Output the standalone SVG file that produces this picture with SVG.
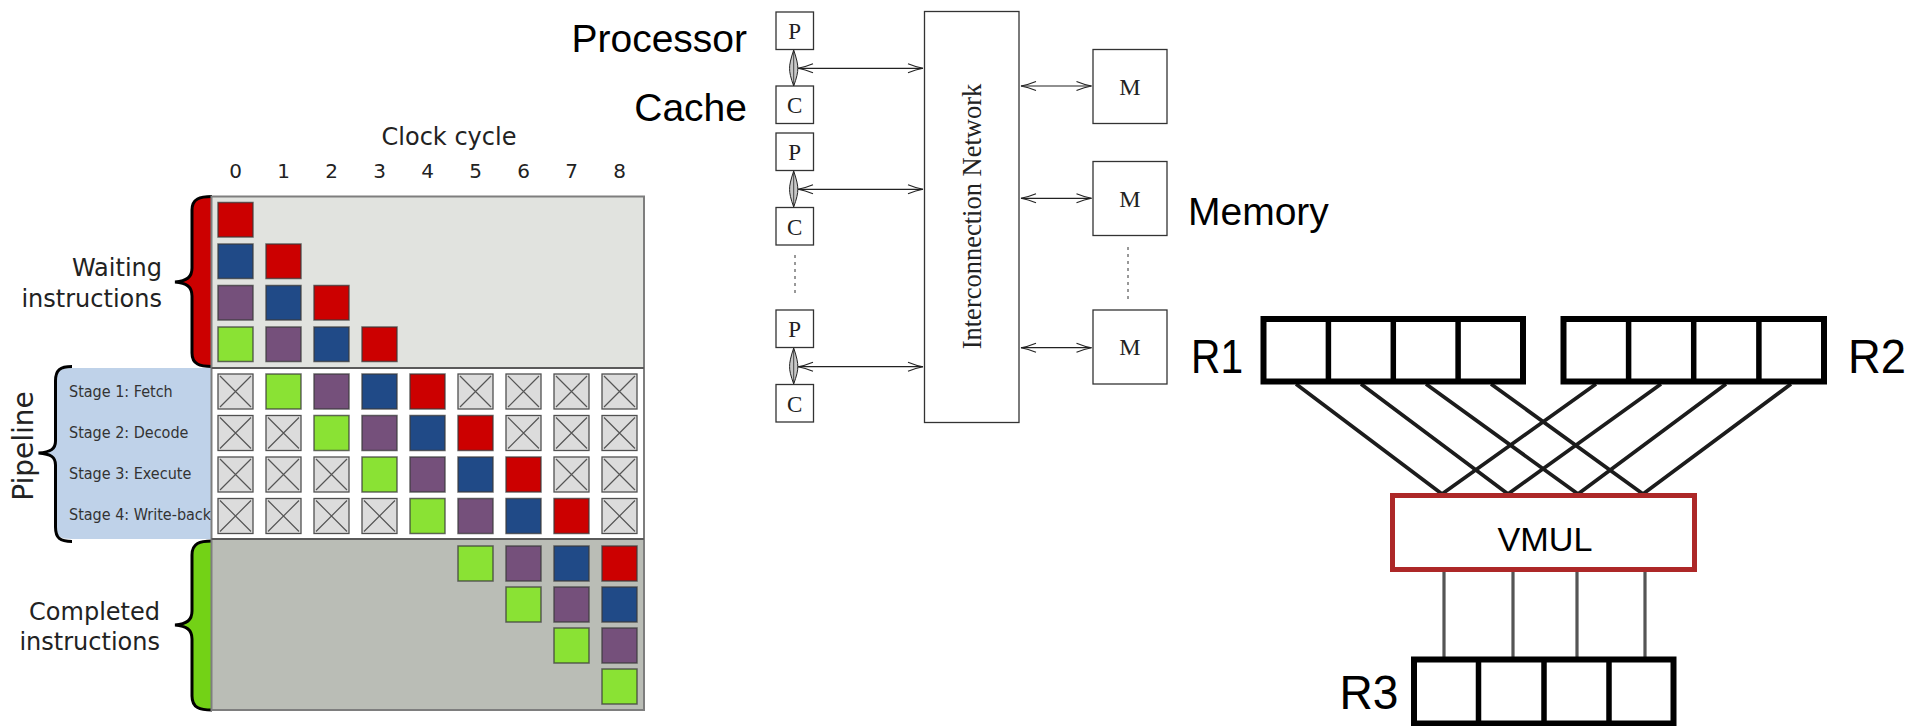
<svg xmlns="http://www.w3.org/2000/svg" xmlns:xlink="http://www.w3.org/1999/xlink" width="1923" height="726" viewBox="0 0 1923 726">
<style>
.lbl{font-family:"DejaVu Sans",sans-serif;fill:#222}
.stg{font-family:"DejaVu Sans Condensed","DejaVu Sans",sans-serif;font-stretch:condensed;font-size:16px;fill:#333}
.r{fill:#cc0000}.b{fill:#204a87}.p{fill:#75507b}.g{fill:#8ae234}
.cell rect{stroke:#3a3a3a;stroke-opacity:.75;stroke-width:1.5}
.big{font-family:"Liberation Sans",Arial,sans-serif;fill:#000}
.ser{font-family:"Liberation Serif","Times New Roman",serif;fill:#222}
.box{fill:#fff;stroke:#333;stroke-width:1.3}
.arr{stroke:#222;stroke-width:1.2;fill:none;marker-start:url(#oh);marker-end:url(#oh)}
.reg{fill:#fff;stroke:#000;stroke-width:6}
.div{stroke:#000;stroke-width:5.5}
.wire{stroke:#1c1c1c;stroke-width:3.7;fill:none}
.vw{stroke:#555;stroke-width:3.2;fill:none}
</style>
<defs>
<g id="xcell"><rect x="0" y="0" width="35" height="35" fill="#dcdcdc" stroke="#505050" stroke-width="1.3"/><path d="M2 2 L33 33 M33 2 L2 33" stroke="#555" stroke-width="1.2" fill="none"/></g>
<marker id="oh" viewBox="-16 -6 17 12" refX="0" refY="0" markerWidth="17" markerHeight="12" markerUnits="userSpaceOnUse" orient="auto-start-reverse"><path d="M-15 -4.5 Q-7 -1.2 0 0 Q-7 1.2 -15 4.5" fill="none" stroke="#222" stroke-width="1.1"/></marker>
</defs>
<rect width="1923" height="726" fill="#fff"/>

<!-- ===== Left: pipeline diagram ===== -->
<g id="pipeline-chart">
<text class="lbl" x="449" y="145" font-size="24" text-anchor="middle">Clock cycle</text>
<g class="lbl" font-size="20" text-anchor="middle">
<text x="235.5" y="178">0</text><text x="283.5" y="178">1</text><text x="331.5" y="178">2</text><text x="379.5" y="178">3</text><text x="427.5" y="178">4</text><text x="475.5" y="178">5</text><text x="523.5" y="178">6</text><text x="571.5" y="178">7</text><text x="619.5" y="178">8</text>
</g>
<g id="waiting-label" class="lbl" font-size="24" text-anchor="end"><text x="162" y="276">Waiting</text><text x="162" y="307">instructions</text></g>
<g id="completed-label" class="lbl" font-size="24" text-anchor="end"><text x="160" y="620">Completed</text><text x="160" y="650">instructions</text></g>
<text class="lbl" font-size="28" transform="translate(33,446) rotate(-90)" text-anchor="middle">Pipeline</text>

<!-- pipeline blue band + brace -->
<path d="M212 368 L72 368 C60 368 55.5 371 55.5 381 L55.5 441 C55.5 449 51 452 38.5 453 C51 454 55.5 457 55.5 465 L55.5 527 C55.5 536 60 539 72 539 L212 539 Z" fill="#bfd2e9"/>
<path d="M72 366.5 C60 366.5 55.5 370 55.5 381 L55.5 441 C55.5 449 51 452 38.5 453 C51 454 55.5 457 55.5 465 L55.5 527 C55.5 538 60 541.5 72 541.5" fill="none" stroke="#000" stroke-width="3"/>
<g class="stg"><text x="69" y="397">Stage 1: Fetch</text><text x="69" y="438">Stage 2: Decode</text><text x="69" y="479">Stage 3: Execute</text><text x="69" y="520">Stage 4: Write-back</text></g>

<!-- waiting brace -->
<path d="M212 196.5 C200 196.5 192 198.5 192 210 L192 268 C192 277 187 281 175 282 C187 283 192 287 192 296 L192 353 C192 364.5 200 366.5 212 366.5 Z" fill="#cc0000"/>
<path d="M212 196.5 C200 196.5 192 198.5 192 210 L192 268 C192 277 187 281 175 282 C187 283 192 287 192 296 L192 353 C192 364.5 200 366.5 212 366.5" fill="none" stroke="#000" stroke-width="3"/>
<!-- completed brace -->
<path d="M212 541 C200 541 192 543 192 555 L192 611 C192 620 187 624 175 625 C187 626 192 630 192 639 L192 696 C192 708 200 710 212 710 Z" fill="#73d216"/>
<path d="M212 541 C200 541 192 543 192 555 L192 611 C192 620 187 624 175 625 C187 626 192 630 192 639 L192 696 C192 708 200 710 212 710" fill="none" stroke="#000" stroke-width="3"/>

<!-- grid backgrounds -->
<rect x="211.5" y="196.5" width="432.5" height="171.5" fill="#e1e3df"/>
<rect x="211.5" y="368" width="432.5" height="171" fill="#fff"/>
<rect x="211.5" y="539" width="432.5" height="171" fill="#babdb6"/>
<rect x="211.5" y="196.5" width="432.5" height="513.5" fill="none" stroke="#7e7e7e" stroke-width="2"/>
<path d="M211.5 368 H644 M211.5 539 H644" stroke="#5a5a5a" stroke-width="2"/>

<g id="waiting-cells" class="cell">
<rect class="r" x="218" y="202.5" width="35" height="34.5"/>
<rect class="b" x="218" y="244" width="35" height="34.5"/><rect class="r" x="266" y="244" width="35" height="34.5"/>
<rect class="p" x="218" y="285.5" width="35" height="34.5"/><rect class="b" x="266" y="285.5" width="35" height="34.5"/><rect class="r" x="314" y="285.5" width="35" height="34.5"/>
<rect class="g" x="218" y="327" width="35" height="34.5"/><rect class="p" x="266" y="327" width="35" height="34.5"/><rect class="b" x="314" y="327" width="35" height="34.5"/><rect class="r" x="362" y="327" width="35" height="34.5"/>
</g>

<g id="pipeline-cells" class="cell">
<use xlink:href="#xcell" x="218" y="374"/><rect class="g" x="266" y="374" width="35" height="35"/><rect class="p" x="314" y="374" width="35" height="35"/><rect class="b" x="362" y="374" width="35" height="35"/><rect class="r" x="410" y="374" width="35" height="35"/><use xlink:href="#xcell" x="458" y="374"/><use xlink:href="#xcell" x="506" y="374"/><use xlink:href="#xcell" x="554" y="374"/><use xlink:href="#xcell" x="602" y="374"/>
<use xlink:href="#xcell" x="218" y="415.5"/><use xlink:href="#xcell" x="266" y="415.5"/><rect class="g" x="314" y="415.5" width="35" height="35"/><rect class="p" x="362" y="415.5" width="35" height="35"/><rect class="b" x="410" y="415.5" width="35" height="35"/><rect class="r" x="458" y="415.5" width="35" height="35"/><use xlink:href="#xcell" x="506" y="415.5"/><use xlink:href="#xcell" x="554" y="415.5"/><use xlink:href="#xcell" x="602" y="415.5"/>
<use xlink:href="#xcell" x="218" y="457"/><use xlink:href="#xcell" x="266" y="457"/><use xlink:href="#xcell" x="314" y="457"/><rect class="g" x="362" y="457" width="35" height="35"/><rect class="p" x="410" y="457" width="35" height="35"/><rect class="b" x="458" y="457" width="35" height="35"/><rect class="r" x="506" y="457" width="35" height="35"/><use xlink:href="#xcell" x="554" y="457"/><use xlink:href="#xcell" x="602" y="457"/>
<use xlink:href="#xcell" x="218" y="498.5"/><use xlink:href="#xcell" x="266" y="498.5"/><use xlink:href="#xcell" x="314" y="498.5"/><use xlink:href="#xcell" x="362" y="498.5"/><rect class="g" x="410" y="498.5" width="35" height="35"/><rect class="p" x="458" y="498.5" width="35" height="35"/><rect class="b" x="506" y="498.5" width="35" height="35"/><rect class="r" x="554" y="498.5" width="35" height="35"/><use xlink:href="#xcell" x="602" y="498.5"/>
</g>

<g id="completed-cells" class="cell">
<rect class="g" x="458" y="546" width="35" height="35"/><rect class="p" x="506" y="546" width="35" height="35"/><rect class="b" x="554" y="546" width="35" height="35"/><rect class="r" x="602" y="546" width="35" height="35"/>
<rect class="g" x="506" y="587" width="35" height="35"/><rect class="p" x="554" y="587" width="35" height="35"/><rect class="b" x="602" y="587" width="35" height="35"/>
<rect class="g" x="554" y="628" width="35" height="35"/><rect class="p" x="602" y="628" width="35" height="35"/>
<rect class="g" x="602" y="669" width="35" height="35"/>
</g>
</g>

<!-- ===== Middle: multiprocessor ===== -->
<g id="mp-labels" class="big" font-size="39" text-anchor="end">
<text x="747" y="52">Processor</text>
<text x="747" y="121">Cache</text>
</g>
<text class="big" font-size="39" x="1188" y="225">Memory</text>

<g id="P1"><rect class="box" x="776" y="12" width="37.5" height="37.5"/><text class="ser" x="794.7" y="39" font-size="23" text-anchor="middle">P</text></g>
<g id="C1"><rect class="box" x="776" y="86" width="37.5" height="37.5"/><text class="ser" x="794.7" y="113" font-size="23" text-anchor="middle">C</text></g>
<g id="P2"><rect class="box" x="776" y="133" width="37.5" height="37.5"/><text class="ser" x="794.7" y="160" font-size="23" text-anchor="middle">P</text></g>
<g id="C2"><rect class="box" x="776" y="207.5" width="37.5" height="37.5"/><text class="ser" x="794.7" y="234.5" font-size="23" text-anchor="middle">C</text></g>
<g id="P3"><rect class="box" x="776" y="310" width="37.5" height="37.5"/><text class="ser" x="794.7" y="337" font-size="23" text-anchor="middle">P</text></g>
<g id="C3"><rect class="box" x="776" y="384.5" width="37.5" height="37.5"/><text class="ser" x="794.7" y="411.5" font-size="23" text-anchor="middle">C</text></g>

<g id="network"><rect class="box" x="924.5" y="11.5" width="94.5" height="411"/><text class="ser" font-size="26.5" transform="translate(980.5,216.5) rotate(-90)" text-anchor="middle">Interconnection Network</text></g>

<g id="M1"><rect class="box" x="1093" y="49.5" width="74" height="74"/><text class="ser" x="1130" y="94.5" font-size="24" text-anchor="middle">M</text></g>
<g id="M2"><rect class="box" x="1093" y="161.5" width="74" height="74"/><text class="ser" x="1130" y="206.5" font-size="24" text-anchor="middle">M</text></g>
<g id="M3"><rect class="box" x="1093" y="310" width="74" height="74"/><text class="ser" x="1130" y="355" font-size="24" text-anchor="middle">M</text></g>

<g id="mp-connectors">
<g fill="#c8c8c8" stroke="#222" stroke-width="1">
<path d="M793.7 50 Q789.3 63 789.6 68.3 Q789.3 74 793.7 86 Q798.1 74 797.8 68.3 Q798.1 63 793.7 50 Z"/>
<path d="M793.7 171 Q789.3 184 789.6 189.3 Q789.3 195 793.7 207 Q798.1 195 797.8 189.3 Q798.1 184 793.7 171 Z"/>
<path d="M793.7 348 Q789.3 361 789.6 366.7 Q789.3 372 793.7 384 Q798.1 372 797.8 366.7 Q798.1 361 793.7 348 Z"/>
</g>
<path d="M793.7 51 V85 M793.7 172 V206 M793.7 349 V383" stroke="#222" stroke-width="0.8"/>
<path class="arr" d="M798 68.3 H923"/>
<path class="arr" d="M798 189.3 H923"/>
<path class="arr" d="M798 366.7 H923"/>
<path class="arr" d="M1021 86 H1091.5"/>
<path class="arr" d="M1021 198.3 H1091.5"/>
<path class="arr" d="M1021 347.7 H1091.5"/>
<path d="M795 255 V296 M1128 247 V302" stroke="#333" stroke-width="1" stroke-dasharray="3 4"/>
</g>

<!-- ===== Right: VMUL ===== -->
<g id="vmul-connectors">
<path class="wire" d="M1296 384 L1442 494 M1361 384 L1508 494 M1426 384 L1578 494 M1491 384 L1643 494"/>
<path class="wire" d="M1596 384 L1442 494 M1661 384 L1508 494 M1726 384 L1578 494 M1791 384 L1643 494"/>
<path class="vw" d="M1444 571 V658 M1513 571 V658 M1577 571 V658 M1645 571 V658"/>
</g>
<g id="R1"><rect class="reg" x="1263.5" y="319" width="259.5" height="62.5"/><path class="div" d="M1328.4 319 V381.5 M1393.3 319 V381.5 M1458.1 319 V381.5"/><text class="big" x="1243" y="373.3" font-size="48" textLength="52" lengthAdjust="spacingAndGlyphs" text-anchor="end">R1</text></g>
<g id="R2"><rect class="reg" x="1563.5" y="319" width="260.5" height="62.5"/><path class="div" d="M1628.6 319 V381.5 M1693.7 319 V381.5 M1758.9 319 V381.5"/><text class="big" x="1848" y="373.3" font-size="48" textLength="58" lengthAdjust="spacingAndGlyphs">R2</text></g>
<g id="VMUL"><rect x="1392.5" y="495.5" width="302" height="74" fill="#fff" stroke="#ad2828" stroke-width="5"/><text class="big" x="1545" y="550.5" font-size="33" fill="#111" text-anchor="middle" textLength="95" lengthAdjust="spacingAndGlyphs">VMUL</text></g>
<g id="R3"><rect class="reg" x="1414" y="659.5" width="259.5" height="64"/><path class="div" d="M1478.5 659.5 V723.5 M1544 659.5 V723.5 M1609 659.5 V723.5"/><text class="big" x="1398.5" y="709.3" font-size="49" textLength="59" lengthAdjust="spacingAndGlyphs" text-anchor="end">R3</text></g>
</svg>
